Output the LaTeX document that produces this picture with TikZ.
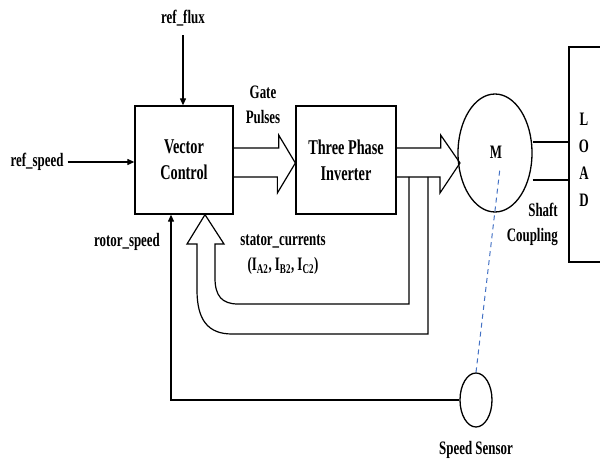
\documentclass[tikz,border=0pt]{standalone}
\usepackage{fontspec}
\setmainfont{Liberation Serif}[FakeStretch=0.68]
\usetikzlibrary{shapes.geometric,arrows.meta,calc}
\definecolor{dashblue}{RGB}{68,114,196}
\begin{document}
\begin{tikzpicture}[x=1pt,y=-1pt,
  every node/.style={font=\bfseries\fontsize{19}{25}\selectfont, inner sep=0pt},
  big/.style={font=\bfseries\fontsize{21}{26}\selectfont},
  blk/.style={draw, line width=1.3pt},
  ln/.style={line width=1.2pt},
  arr/.style={line width=1.2pt, -{Triangle[length=7pt,width=6pt]}},
  hollow/.style={line width=1.2pt, line join=miter}]
\useasboundingbox (0,0) rectangle (600,465);
% blocks
\node[blk, big, minimum width=98pt, minimum height=108pt, align=center] (vc) at (184,160) {Vector\\Control};
\node[blk, big, minimum width=100pt, minimum height=108pt, align=center] (inv) at (346,160) {Three Phase\\Inverter};
\node[blk, ellipse, minimum width=74pt, minimum height=118pt] (m) at (495,153) {};
\node at (496,152) {M};
\node[blk, minimum width=50pt, minimum height=215pt] (load) at (594,154.5) {};
\node[align=center, font=\bfseries\fontsize{19}{27}\selectfont] (lt) at (584,160) {L\\O\\A\\D};
\node[blk, ellipse, minimum width=32pt, minimum height=54pt] (ss) at (476,400) {};
% labels
\node (rf) at (183,18) {ref\_flux};
\node (rs) at (37,162) {ref\_speed};
\node[align=center] (gp) at (263,105) {Gate\\Pulses};
\node (rsp) at (127,242) {rotor\_speed};
\node[align=center] (sc) at (283,255) {stator\_currents\\(I\textsubscript{A2}, I\textsubscript{B2}, I\textsubscript{C2})};
\node[align=right, anchor=east] (shc) at (558,224) {Shaft\\Coupling};
\node (ssl) at (476,450) {Speed Sensor};
% input arrows
\draw[arr] ([yshift=-9pt]rf.south) -- (vc.north -| rf.south);
\draw[arr] ([xshift=4pt]rs.east) -- (vc.west |- rs.east);
% hollow arrow VC -> inverter
\draw[hollow] ([yshift=12pt]vc.east) -- ++(45,0) -- ++(0,-13) -- ([yshift=-3pt]inv.west) -- ++(-18,30) -- ++(0,-16) -- ([yshift=-17pt]vc.east);
% hollow arrow inverter -> motor
\coordinate (tip) at (460,163);
\draw[hollow] ([yshift=12pt]inv.east) -- ++(44,0) -- ++(0,-13) -- (tip) -- ++(-20,30) -- ++(0,-16) -- ([yshift=-17pt]inv.east);
% shaft
\draw[ln] (m.east |- 0,142) -- (load.west |- 0,142);
\draw[ln] (m.east |- 0,180) -- (load.west |- 0,180);
% feedback hollow arrow (stator currents)
\coordinate (fbtip) at ([xshift=21pt]vc.south);
\draw[hollow] (409,177) -- (409,304) -- (238,304) .. controls (222,304) and (215,296) .. (215,278) -- (215,244) -- (224,244) -- (fbtip) -- (187,244) -- (197,244) -- (197,290) .. controls (197,320) and (208,334) .. (232,334) -- (428,334) -- (428,177);
% rotor speed feedback
\draw[arr] (ss.west) -| ([xshift=-13pt]vc.south);
% dashed link
\coordinate (mc) at (500,168);
\draw[line width=1pt, dashblue, dash pattern=on 5pt off 4pt] (ss.north) -- (mc);
\end{tikzpicture}
\end{document}
